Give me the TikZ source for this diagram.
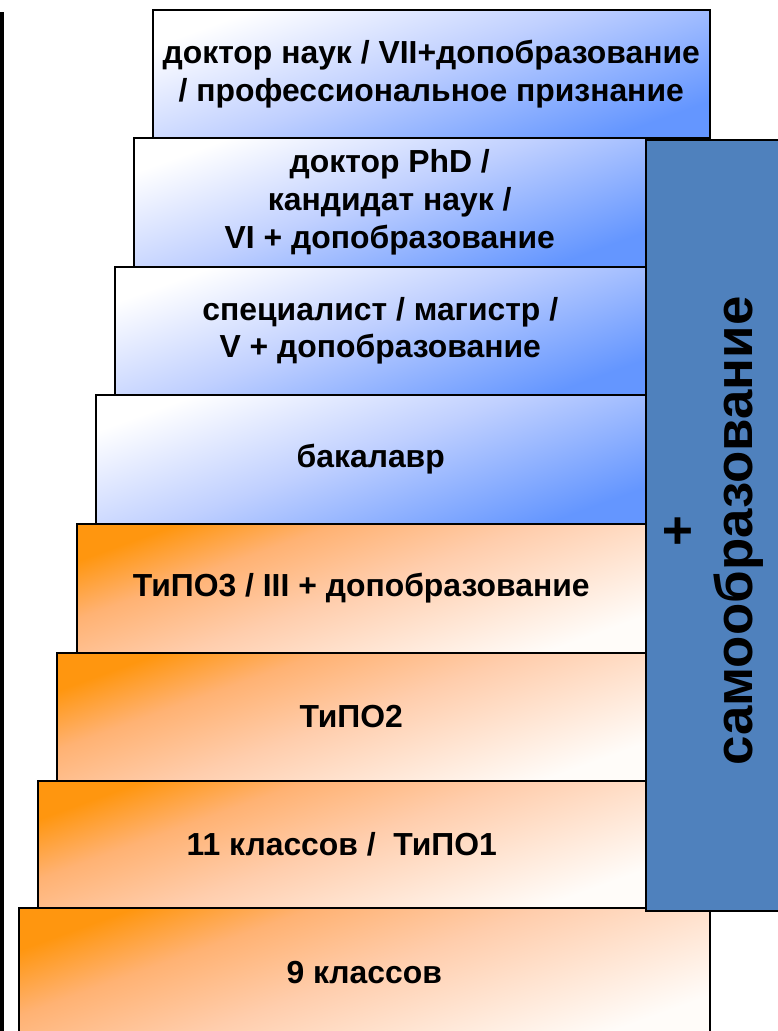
\documentclass[tikz,border=0pt]{standalone}
\usepackage{fontspec}
\setmainfont{Liberation Sans}
\usetikzlibrary{positioning,shadows}

\definecolor{barblue}{RGB}{79,129,189}
\definecolor{paleblue}{RGB}{230,236,255}
\definecolor{lightblue}{RGB}{192,208,255}
\definecolor{deepblue}{RGB}{100,150,255}
\definecolor{deeporange}{RGB}{255,150,15}
\definecolor{midorange}{RGB}{255,178,115}
\definecolor{peach}{RGB}{255,205,172}
\definecolor{paleorange}{RGB}{255,252,249}

% colour runs of the two kinds of steps
\pgfdeclareverticalshading{bluestep}{100bp}{color(0bp)=(deepblue); color(25bp)=(deepblue);
  color(52bp)=(lightblue); color(66bp)=(paleblue); color(75bp)=(white); color(100bp)=(white)}
\pgfdeclareverticalshading{orangestep}{100bp}{color(0bp)=(paleorange); color(25bp)=(paleorange);
  color(50bp)=(peach); color(64bp)=(midorange); color(75bp)=(deeporange); color(100bp)=(deeporange)}

\begin{document}
\begin{tikzpicture}[
    x=1bp, y=-1bp,
    every node/.style={font=\bfseries\fontsize{32}{38}\selectfont, align=center, inner sep=0pt},
    stepbox/.style={draw, line width=1.5bp, anchor=north west},
    bluebox/.style={stepbox, shade, shading=bluestep, shading angle=20},
    orangebox/.style={stepbox, shade, shading=orangestep, shading angle=20}
]
    \useasboundingbox (0,0) rectangle (778,1031);
    \clip (0,0) rectangle (778,1031);
    % left rule
    \draw[line width=4bp] (2,12) -- (2,1031);
    % university steps
    \node[bluebox, minimum width=557bp, minimum height=128bp] (doctor) at (152,9)
        {доктор наук / VII+допобразование\\/ профессиональное признание};
    \node[bluebox, minimum width=512bp, minimum height=129bp] (phd) at (133,137)
        {доктор PhD /\\кандидат наук /\\VI + допобразование};
    \node[bluebox, minimum width=531bp, minimum height=128bp] (master) at (114,266)
        {специалист / магистр /\\V + допобразование};
    \node[bluebox, minimum width=550bp, minimum height=129bp] (bachelor) at (95,394)
        {бакалавр};
    % school steps
    \node[orangebox, minimum width=569bp, minimum height=129bp] (tipo3) at (76,523)
        {ТиПО3 / III + допобразование};
    \node[orangebox, minimum width=589bp, minimum height=128bp] (tipo2) at (56,652)
        {ТиПО2};
    \node[orangebox, minimum width=608bp, minimum height=127bp] (school11) at (37,780)
        {11 классов /\ \ ТиПО1};
    \node[orangebox, minimum width=691bp, minimum height=130bp] (school9) at (18,907)
        {9 классов};
    % side bar
    \node[stepbox, fill=barblue, drop shadow={shadow xshift=1.5bp, shadow yshift=-1.5bp, fill=gray, opacity=0.6},
        minimum width=136bp, minimum height=771bp] (selfedu) at (645,139) {};
    \node[rotate=90, font=\bfseries\fontsize{53}{57}\selectfont] (selfedutext)
        at ([yshift=-6bp]selfedu.center) {+\\самообразование};
\end{tikzpicture}
\end{document}
